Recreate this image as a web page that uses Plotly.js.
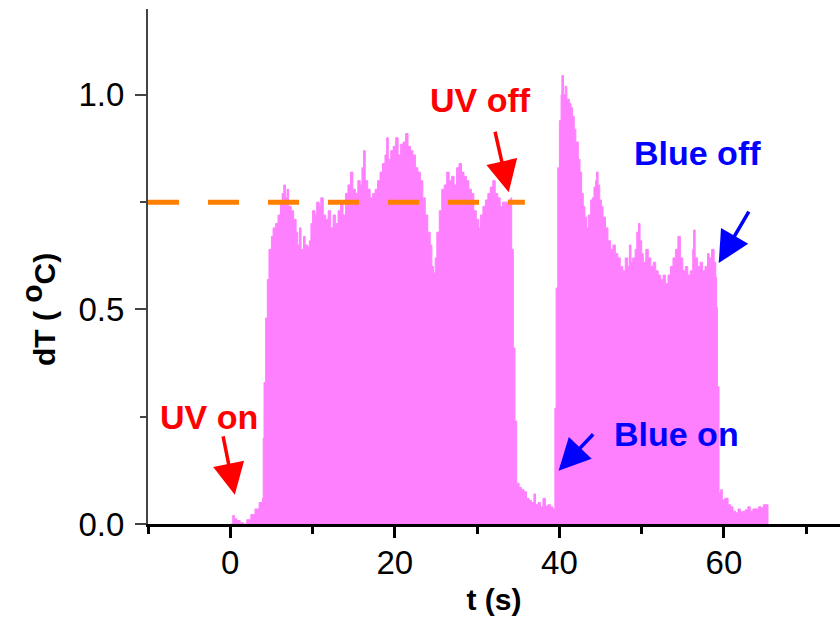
<!DOCTYPE html>
<html>
<head>
<meta charset="utf-8">
<script src="https://cdn.plot.ly/plotly-3.0.1.min.js"></script>
<style>html,body{margin:0;padding:0;background:#fff}#chart{width:840px;height:627px}</style>
</head>
<body>
<div id="chart"></div>
<script>
// time (s)
const tValues = [
 0,0.3,0.5,0.8,1.2,1.6,2.0,2.5,3.0,3.5,3.9,
 4.0,4.1,4.3,4.5,4.7,5.0,5.2,5.5,5.8,6.1,6.3,6.5,6.7,6.9,7.1,7.4,7.7,8.0,8.2,8.4,8.6,8.9,9.1,9.4,9.6,9.8,
 10.0,10.3,10.5,10.8,11.0,11.3,11.6,11.9,12.2,12.5,12.8,13.1,13.4,13.7,14.0,14.3,14.6,14.9,15.2,15.5,15.8,16.0,16.2,16.4,16.7,17.0,17.3,17.6,17.9,
 18.2,18.5,18.8,19.0,19.2,19.5,19.8,20.1,20.4,20.7,21.0,21.3,21.6,21.9,22.2,22.5,22.8,23.1,23.4,23.7,24.0,24.3,24.5,24.7,24.9,
 25.1,25.4,25.7,26.0,26.3,26.6,26.9,27.2,27.5,27.8,28.1,28.4,28.7,29.0,29.3,29.6,29.9,30.2,30.4,30.7,31.0,31.3,31.6,31.9,
 32.2,32.5,32.8,33.1,33.4,33.8,34.1,34.2,34.4,34.6,34.8,35.1,35.4,35.7,36.0,36.3,36.6,36.9,37.1,37.4,37.7,38.0,38.3,38.6,38.9,39.2,39.35,
 39.45,39.6,39.8,40.0,40.2,40.3,40.5,40.7,40.9,41.2,41.4,41.6,41.8,42.0,42.3,42.5,42.7,42.9,43.1,43.3,43.5,43.8,44.0,44.2,44.4,44.5,44.7,44.9,
 45.1,45.3,45.6,45.9,46.2,46.5,46.8,47.1,47.4,47.7,48.0,48.3,48.5,48.7,48.9,49.2,49.4,49.6,49.8,50.0,50.2,50.5,50.8,51.1,51.4,51.7,
 52.0,52.3,52.6,52.9,53.2,53.5,53.8,54.1,54.4,54.7,55.0,55.3,55.6,55.9,56.2,56.3,56.5,56.8,57.1,57.4,57.7,58.0,58.2,58.5,58.8,
 59.0,59.1,59.2,59.4,59.6,59.8,60.1,60.5,60.8,61.1,61.4,61.7,62.0,62.3,62.6,62.9,63.2,63.5,63.9,64.2,64.5,64.8,65.1,65.3,65.35
];
// temperature rise dT (°C)
const dTValues = [
 0,0.02,0.012,0.008,0.003,0.0,0.01,0.022,0.035,0.05,0.06,
 0.2,0.33,0.48,0.57,0.64,0.67,0.69,0.70,0.72,0.75,0.77,0.79,0.76,0.78,0.74,0.73,0.71,0.68,0.65,0.69,0.64,0.67,0.65,0.645,0.66,0.70,
 0.73,0.72,0.75,0.74,0.76,0.72,0.71,0.73,0.69,0.72,0.70,0.73,0.745,0.72,0.77,0.79,0.82,0.78,0.77,0.80,0.79,0.83,0.87,0.80,0.78,0.76,0.77,0.78,0.80,
 0.82,0.84,0.86,0.90,0.85,0.87,0.88,0.90,0.86,0.885,0.89,0.91,0.88,0.87,0.86,0.83,0.82,0.80,0.76,0.72,0.68,0.65,0.60,0.585,0.62,
 0.68,0.73,0.78,0.79,0.82,0.80,0.81,0.79,0.83,0.84,0.82,0.81,0.80,0.78,0.77,0.73,0.71,0.69,0.72,0.74,0.755,0.77,0.785,0.80,
 0.77,0.76,0.74,0.75,0.75,0.755,0.76,0.64,0.41,0.24,0.095,0.085,0.08,0.075,0.06,0.055,0.05,0.07,0.045,0.05,0.04,0.06,0.042,0.045,0.04,0.035,0.035,
 0.27,0.55,0.83,0.94,1.0,1.045,1.0,1.02,0.99,0.98,0.97,0.95,0.92,0.89,0.85,0.82,0.77,0.74,0.715,0.69,0.72,0.755,0.76,0.785,0.80,0.82,0.79,0.755,
 0.74,0.715,0.69,0.66,0.64,0.65,0.63,0.62,0.60,0.59,0.62,0.60,0.65,0.61,0.62,0.64,0.68,0.70,0.66,0.63,0.61,0.64,0.62,0.60,0.61,0.59,
 0.58,0.57,0.58,0.56,0.58,0.60,0.62,0.64,0.67,0.62,0.59,0.60,0.58,0.59,0.64,0.685,0.62,0.60,0.61,0.59,0.60,0.63,0.62,0.64,0.61,
 0.575,0.505,0.32,0.072,0.08,0.056,0.06,0.045,0.04,0.03,0.026,0.035,0.028,0.03,0.033,0.04,0.03,0.035,0.035,0.04,0.038,0.045,0.045,0.045,0
];
// dashed reference level
const refX = [-10, 35.8];
const refY = [0.75, 0.75];

// labels
const labelTexts = ['UV on', 'UV off', 'Blue off', 'Blue on'];
const labelColors = ['#FF0000', '#FF0000', '#0000FF', '#0000FF'];
const labelX = [-2.6, 30.4, 56.8, 54.25];
const labelY = [0.25, 0.987, 0.864, 0.21];
// arrow tips (data) and tail offsets (px)
const arrowX = [0.55, 33.84, 59.36, 39.9];
const arrowY = [0.068, 0.773, 0.608, 0.124];
const arrowAX = [-12, -14, 31, 36];
const arrowAY = [-60, -62, -53, -38];

const FONT = 'Liberation Sans, Arial, sans-serif';

const traces = [
  {
    x: tValues, y: dTValues, type: 'scatter', mode: 'lines',
    fill: 'tozeroy', fillcolor: '#FF80FF',
    line: {color: '#FF80FF', width: 1, shape: 'hv'},
    hoverinfo: 'skip', showlegend: false
  },
  {
    x: refX, y: refY, type: 'scatter', mode: 'lines',
    line: {color: '#FF8000', width: 5, dash: '31px,29px'},
    hoverinfo: 'skip', showlegend: false
  }
];

const annotations = [];
for (let i = 0; i < labelTexts.length; i++) {
  annotations.push({
    x: labelX[i], y: labelY[i], xref: 'x', yref: 'y',
    text: '<b>' + labelTexts[i] + '</b>', showarrow: false,
    font: {family: FONT, size: 34, color: labelColors[i]},
    xanchor: 'center', yanchor: 'middle'
  });
  annotations.push({
    x: arrowX[i], y: arrowY[i], xref: 'x', yref: 'y',
    ax: arrowAX[i], ay: arrowAY[i], text: '', showarrow: true,
    arrowhead: 2, arrowsize: 1.8, arrowwidth: 3.5, arrowcolor: labelColors[i],
    standoff: 0, startstandoff: 0
  });
}
// y axis title drawn as rotated annotation
annotations.push({
  x: -0.158, xref: 'paper', y: 0.5, yref: 'y',
  text: '<b>dT ( <sup><span style="font-size:30px">o</span></sup>C)</b>',
  showarrow: false, textangle: -90,
  font: {family: FONT, size: 30, color: '#000'},
  xanchor: 'center', yanchor: 'middle'
});

const layout = {
  width: 840, height: 627,
  margin: {l: 148, r: 0, t: 9, b: 103, pad: 0},
  paper_bgcolor: '#fff', plot_bgcolor: '#fff',
  font: {family: FONT, color: '#000'},
  xaxis: {
    range: [-10, 74.1], showgrid: false, zeroline: false,
    showline: true, linecolor: '#000', linewidth: 3,
    ticks: 'outside', ticklen: 11, tickwidth: 3, tickcolor: '#000',
    tickvals: [0, 20, 40, 60], ticktext: ['0', '20', '40', '60'],
    minor: {tickvals: [-10, 10, 30, 50, 70], ticks: 'outside', ticklen: 7, tickwidth: 3, tickcolor: '#000'},
    tickfont: {family: FONT, size: 33, color: '#000'},
    ticklabelstandoff: -4,
    title: {text: '<b>t (s)</b>', font: {family: FONT, size: 30, color: '#000'}, standoff: 10}
  },
  yaxis: {
    range: [0, 1.2], showgrid: false, zeroline: false,
    showline: true, linecolor: '#444', linewidth: 2,
    ticks: 'outside', ticklen: 11, tickwidth: 2, tickcolor: '#444',
    tickvals: [0, 0.5, 1.0], ticktext: ['0.0', '0.5', '1.0'],
    minor: {tickvals: [0.25, 0.75], ticks: 'outside', ticklen: 6, tickwidth: 2, tickcolor: '#444'},
    tickfont: {family: FONT, size: 33, color: '#000'},
    ticklabelstandoff: 4
  },
  annotations: annotations
};

Plotly.newPlot('chart', traces, layout, {displayModeBar: false, staticPlot: true});
</script>
</body>
</html>
